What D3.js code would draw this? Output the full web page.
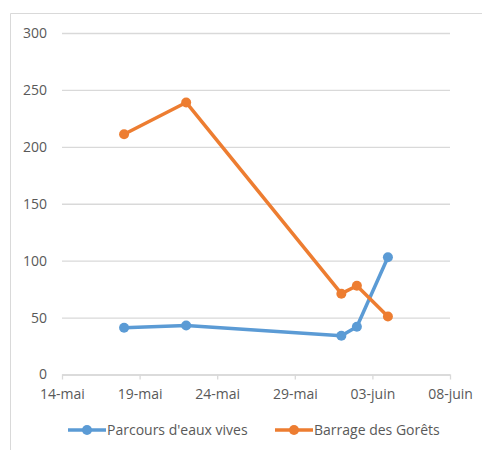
<!DOCTYPE html>
<html>
  <head>
    <meta charset="utf-8">
    <script src="https://d3js.org/d3.v7.min.js"></script>
    <style>
      body { margin: 0; background: #fff; }
      svg text { font-family: "Open Sans", "Liberation Sans", sans-serif; fill: #595959; }
    </style>
  </head>
  <body>
    <div id="chart"></div>
    <script>
      // data
      var dates = ["2024-05-18", "2024-05-22", "2024-06-01", "2024-06-02", "2024-06-04"];
      var eauxVives = [41, 43, 34, 42, 103];
      var gorets = [211, 239, 71, 78, 51];
      var seriesNames = ["Parcours d'eaux vives", "Barrage des Gorêts"];
      var colors = ["#5B9BD5", "#ED7D31"];
      var xTickDates = ["2024-05-14", "2024-05-19", "2024-05-24", "2024-05-29", "2024-06-03", "2024-06-08"];
      var xTickLabels = ["14-mai", "19-mai", "24-mai", "29-mai", "03-juin", "08-juin"];
      var yTicks = [0, 50, 100, 150, 200, 250, 300];

      var W = 482, H = 450;
      var margin = {top: 33, right: 32, bottom: 75.5, left: 62};
      var width = W - margin.left - margin.right,
          height = H - margin.top - margin.bottom;

      var parse = d3.timeParse("%Y-%m-%d");

      var svg = d3.select("#chart").append("svg")
        .attr("width", W).attr("height", H);

      // chart frame (only top and left visible)
      svg.append("path")
        .attr("d", "M10.5," + H + "V13.5H" + W)
        .attr("fill", "none").attr("stroke", "#d9d9d9");

      var g = svg.append("g")
        .attr("transform", "translate(" + margin.left + "," + margin.top + ")");

      var x = d3.scaleTime()
        .domain([parse(xTickDates[0]), parse(xTickDates[xTickDates.length - 1])])
        .range([0, width]);
      var y = d3.scaleLinear().domain([0, 300]).range([height, 0]);

      // gridlines + y labels
      var yAxis = g.append("g")
        .call(d3.axisLeft(y).tickValues(yTicks).tickSize(-width).tickPadding(15));
      yAxis.select(".domain").remove();
      yAxis.selectAll(".tick line").attr("stroke", "#d9d9d9").attr("stroke-width", 1.3);
      yAxis.selectAll(".tick text").style("font-size", "14px");

      // x axis
      var xAxis = g.append("g")
        .attr("transform", "translate(0," + height + ")")
        .call(d3.axisBottom(x)
          .tickValues(xTickDates.map(parse))
          .tickFormat(function(d, i) { return xTickLabels[i]; })
          .tickSize(5).tickSizeOuter(0).tickPadding(10));
      xAxis.select(".domain").attr("stroke", "#d9d9d9").attr("stroke-width", 1.3);
      xAxis.selectAll(".tick line").attr("stroke", "#d9d9d9").attr("stroke-width", 1.3);
      xAxis.selectAll(".tick text").style("font-size", "14px");

      var series = [eauxVives, gorets].map(function(vals, k) {
        return {
          name: seriesNames[k], color: colors[k],
          points: vals.map(function(v, i) { return {date: parse(dates[i]), value: v}; })
        };
      });

      var line = d3.line()
        .x(function(d) { return x(d.date); })
        .y(function(d) { return y(d.value); });

      series.forEach(function(s) {
        g.append("path")
          .datum(s.points)
          .attr("fill", "none")
          .attr("stroke", s.color)
          .attr("stroke-width", 3.5)
          .attr("stroke-linejoin", "round")
          .attr("d", line);
        g.selectAll(null)
          .data(s.points)
          .enter().append("circle")
          .attr("cx", function(d) { return x(d.date); })
          .attr("cy", function(d) { return y(d.value); })
          .attr("r", 5)
          .attr("fill", s.color);
      });

      // legend
      var legendX = [68, 275];
      var legend = svg.append("g").attr("transform", "translate(0,430)");
      series.forEach(function(s, k) {
        var lg = legend.append("g").attr("transform", "translate(" + legendX[k] + ",0)");
        lg.append("line").attr("x1", 0).attr("x2", 38)
          .attr("stroke", s.color).attr("stroke-width", 3.5);
        lg.append("circle").attr("cx", 19).attr("r", 5).attr("fill", s.color);
        lg.append("text").attr("x", 39).attr("dy", "0.35em")
          .style("font-size", "14px").text(s.name);
      });
    </script>
  </body>
</html>
